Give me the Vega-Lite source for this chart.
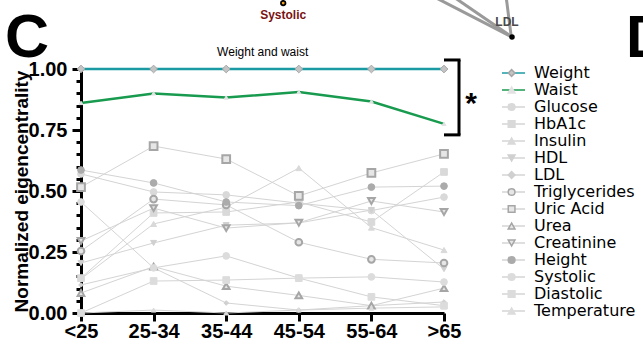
{
  "$schema": "https://vega.github.io/schema/vega-lite/v6.json",
  "autosize": {"type": "none"},
  "padding": {"left": 81, "top": 69, "right": 199, "bottom": 32},
  "width": 363,
  "height": 244,
  "background": "white",
  "config": {"view": {"stroke": null}, "font": "Liberation Sans"},
  "data": {"values": [
    {"age": "<25", "series": "Glucose", "value": 0.57}, {"age": "25-34", "series": "Glucose", "value": 0.496}, {"age": "35-44", "series": "Glucose", "value": 0.484}, {"age": "45-54", "series": "Glucose", "value": 0.45}, {"age": "55-64", "series": "Glucose", "value": 0.42}, {"age": ">65", "series": "Glucose", "value": 0.475},
    {"age": "<25", "series": "HbA1c", "value": 0.143}, {"age": "25-34", "series": "HbA1c", "value": 0.41}, {"age": "35-44", "series": "HbA1c", "value": 0.414}, {"age": "45-54", "series": "HbA1c", "value": 0.455}, {"age": "55-64", "series": "HbA1c", "value": 0.373}, {"age": ">65", "series": "HbA1c", "value": 0.578},
    {"age": "<25", "series": "Insulin", "value": 0.14}, {"age": "25-34", "series": "Insulin", "value": 0.365}, {"age": "35-44", "series": "Insulin", "value": 0.434}, {"age": "45-54", "series": "Insulin", "value": 0.594}, {"age": "55-64", "series": "Insulin", "value": 0.35}, {"age": ">65", "series": "Insulin", "value": 0.258},
    {"age": "<25", "series": "HDL", "value": 0.205}, {"age": "25-34", "series": "HDL", "value": 0.287}, {"age": "35-44", "series": "HDL", "value": 0.36}, {"age": "45-54", "series": "HDL", "value": 0.369}, {"age": "55-64", "series": "HDL", "value": 0.422}, {"age": ">65", "series": "HDL", "value": 0.18},
    {"age": "<25", "series": "LDL", "value": 0.115}, {"age": "25-34", "series": "LDL", "value": 0.185}, {"age": "35-44", "series": "LDL", "value": 0.041}, {"age": "45-54", "series": "LDL", "value": 0.012}, {"age": "55-64", "series": "LDL", "value": 0.03}, {"age": ">65", "series": "LDL", "value": 0.045},
    {"age": "<25", "series": "Triglycerides", "value": 0.254}, {"age": "25-34", "series": "Triglycerides", "value": 0.467}, {"age": "35-44", "series": "Triglycerides", "value": 0.443}, {"age": "45-54", "series": "Triglycerides", "value": 0.29}, {"age": "55-64", "series": "Triglycerides", "value": 0.22}, {"age": ">65", "series": "Triglycerides", "value": 0.205},
    {"age": "<25", "series": "Uric Acid", "value": 0.516}, {"age": "25-34", "series": "Uric Acid", "value": 0.684}, {"age": "35-44", "series": "Uric Acid", "value": 0.631}, {"age": "45-54", "series": "Uric Acid", "value": 0.48}, {"age": "55-64", "series": "Uric Acid", "value": 0.574}, {"age": ">65", "series": "Uric Acid", "value": 0.652},
    {"age": "<25", "series": "Urea", "value": 0.082}, {"age": "25-34", "series": "Urea", "value": 0.19}, {"age": "35-44", "series": "Urea", "value": 0.11}, {"age": "45-54", "series": "Urea", "value": 0.072}, {"age": "55-64", "series": "Urea", "value": 0.03}, {"age": ">65", "series": "Urea", "value": 0.102},
    {"age": "<25", "series": "Creatinine", "value": 0.295}, {"age": "25-34", "series": "Creatinine", "value": 0.43}, {"age": "35-44", "series": "Creatinine", "value": 0.348}, {"age": "45-54", "series": "Creatinine", "value": 0.37}, {"age": "55-64", "series": "Creatinine", "value": 0.459}, {"age": ">65", "series": "Creatinine", "value": 0.414},
    {"age": "<25", "series": "Height", "value": 0.586}, {"age": "25-34", "series": "Height", "value": 0.533}, {"age": "35-44", "series": "Height", "value": 0.455}, {"age": "45-54", "series": "Height", "value": 0.44}, {"age": "55-64", "series": "Height", "value": 0.516}, {"age": ">65", "series": "Height", "value": 0.52},
    {"age": "<25", "series": "Systolic", "value": 0.455}, {"age": "25-34", "series": "Systolic", "value": 0.185}, {"age": "35-44", "series": "Systolic", "value": 0.234}, {"age": "45-54", "series": "Systolic", "value": 0.143}, {"age": "55-64", "series": "Systolic", "value": 0.148}, {"age": ">65", "series": "Systolic", "value": 0.127},
    {"age": "<25", "series": "Diastolic", "value": 0.0}, {"age": "25-34", "series": "Diastolic", "value": 0.131}, {"age": "35-44", "series": "Diastolic", "value": 0.135}, {"age": "45-54", "series": "Diastolic", "value": 0.143}, {"age": "55-64", "series": "Diastolic", "value": 0.066}, {"age": ">65", "series": "Diastolic", "value": 0.03},
    {"age": "<25", "series": "Temperature", "value": 0.0}, {"age": "25-34", "series": "Temperature", "value": 0.012}, {"age": "35-44", "series": "Temperature", "value": 0.0}, {"age": "45-54", "series": "Temperature", "value": 0.012}, {"age": "55-64", "series": "Temperature", "value": 0.02}, {"age": ">65", "series": "Temperature", "value": 0.025},
    {"age": "<25", "series": "Waist", "value": 0.861}, {"age": "25-34", "series": "Waist", "value": 0.9}, {"age": "35-44", "series": "Waist", "value": 0.883}, {"age": "45-54", "series": "Waist", "value": 0.906}, {"age": "55-64", "series": "Waist", "value": 0.867}, {"age": ">65", "series": "Waist", "value": 0.775},
    {"age": "<25", "series": "Weight", "value": 1.0}, {"age": "25-34", "series": "Weight", "value": 1.0}, {"age": "35-44", "series": "Weight", "value": 1.0}, {"age": "45-54", "series": "Weight", "value": 1.0}, {"age": "55-64", "series": "Weight", "value": 1.0}, {"age": ">65", "series": "Weight", "value": 1.0}
  ]},
  "encoding": {
    "x": {"field": "age", "type": "ordinal", "sort": ["<25", "25-34", "35-44", "45-54", "55-64", ">65"], "scale": {"type": "point", "padding": 0},
      "axis": {"title": null, "labelAngle": 0, "labelFontSize": 20, "labelFontWeight": "bold", "labelFont": "Liberation Sans", "labelColor": "black", "labelPadding": 0, "domainColor": "black", "domainWidth": 3, "tickColor": "black", "tickWidth": 3, "tickSize": 8, "grid": false}},
    "y": {"field": "value", "type": "quantitative", "scale": {"domain": [0, 1], "nice": false},
      "axis": {"values": [0, 0.05, 0.1, 0.15, 0.2, 0.25, 0.3, 0.35, 0.4, 0.45, 0.5, 0.55, 0.6, 0.65, 0.7, 0.75, 0.8, 0.85, 0.9, 0.95, 1.0],
        "labelExpr": "round(datum.value*100) % 25 == 0 ? format(datum.value, '.2f') : ''",
        "labelOverlap": false, "labelFlush": false, "labelBound": false,
        "labelFontSize": 20, "labelFontWeight": "bold", "labelFont": "Liberation Sans", "labelColor": "black", "labelPadding": 5,
        "domainColor": "black", "domainWidth": 3, "tickColor": "black", "tickWidth": 3,
        "tickSize": {"condition": {"test": "round(datum.value*100) % 25 == 0", "value": 9}, "value": 5},
        "grid": false, "title": "Normalized eigencentrality", "titleFontSize": 19, "titleFontWeight": "bold", "titleFont": "Liberation Sans", "titleColor": "black", "titlePadding": -3}}
  },
  "layer": [
    {
      "mark": {"type": "line"},
      "encoding": {
        "color": {"field": "series", "type": "nominal",
          "sort": ["Weight", "Waist", "Glucose", "HbA1c", "Insulin", "HDL", "LDL", "Triglycerides", "Uric Acid", "Urea", "Creatinine", "Height", "Systolic", "Diastolic", "Temperature"],
          "scale": {"range": ["#1a9ba3", "#189a4f", "#d4d4d4", "#d4d4d4", "#d4d4d4", "#d4d4d4", "#d4d4d4", "#d4d4d4", "#d4d4d4", "#d4d4d4", "#d4d4d4", "#d4d4d4", "#d4d4d4", "#d4d4d4", "#d4d4d4"]},
          "legend": {"orient": "none", "legendX": 421, "legendY": -4.5, "title": null, "symbolType": "M-3,0L3,0", "symbolSize": 100, "symbolStrokeWidth": 1.5, "labelFontSize": 16, "labelFont": "DejaVu Sans", "labelColor": "black", "labelOffset": 16, "rowPadding": 0, "clipHeight": 17, "padding": 0, "labelLimit": 300}},
        "strokeWidth": {"condition": {"test": "datum.series == 'Weight' || datum.series == 'Waist'", "value": 2.5}, "value": 1}
      }
    },
    {
      "mark": {"type": "point", "opacity": 1},
      "encoding": {
        "shape": {"field": "series", "type": "nominal",
          "scale": {"domain": ["Weight", "Waist", "Glucose", "HbA1c", "Insulin", "HDL", "LDL", "Triglycerides", "Uric Acid", "Urea", "Creatinine", "Height", "Systolic", "Diastolic", "Temperature"],
            "range": ["diamond", "triangle-up", "circle", "square", "triangle-up", "triangle-down", "diamond", "circle", "square", "triangle-up", "triangle-down", "circle", "circle", "square", "triangle-up"]},
          "legend": {"orient": "none", "legendX": 422.6, "legendY": -4.5, "title": null, "symbolSize": 45, "symbolStrokeWidth": 1.5, "labelExpr": "''", "labelFontSize": 16, "labelFont": "DejaVu Sans", "rowPadding": 0, "clipHeight": 17, "padding": 0}},
        "fill": {"field": "series", "type": "nominal",
          "scale": {"domain": ["Weight", "Waist", "Glucose", "HbA1c", "Insulin", "HDL", "LDL", "Triglycerides", "Uric Acid", "Urea", "Creatinine", "Height", "Systolic", "Diastolic", "Temperature"],
            "range": ["#c4c4c4", "#e2e2e2", "#d9d9d9", "#d9d9d9", "#d9d9d9", "#d0d0d0", "#d0d0d0", "#e6e6e6", "#e6e6e6", "#e6e6e6", "#e6e6e6", "#ababab", "#dcdcdc", "#dcdcdc", "#dcdcdc"]},
          "legend": {"orient": "none", "legendX": 422.6, "legendY": -4.5, "title": null, "symbolSize": 45, "symbolStrokeWidth": 1.5, "labelExpr": "''", "labelFontSize": 16, "labelFont": "DejaVu Sans", "rowPadding": 0, "clipHeight": 17, "padding": 0}},
        "stroke": {"field": "series", "type": "nominal",
          "scale": {"domain": ["Weight", "Waist", "Glucose", "HbA1c", "Insulin", "HDL", "LDL", "Triglycerides", "Uric Acid", "Urea", "Creatinine", "Height", "Systolic", "Diastolic", "Temperature"],
            "range": ["#a6a6a6", "#e2e2e2", "#d9d9d9", "#d9d9d9", "#d9d9d9", "#d0d0d0", "#d0d0d0", "#a6a6a6", "#a6a6a6", "#a6a6a6", "#a6a6a6", "#ababab", "#dcdcdc", "#dcdcdc", "#dcdcdc"]},
          "legend": {"orient": "none", "legendX": 422.6, "legendY": -4.5, "title": null, "symbolSize": 45, "symbolStrokeWidth": 1.5, "labelExpr": "''", "labelFontSize": 16, "labelFont": "DejaVu Sans", "rowPadding": 0, "clipHeight": 17, "padding": 0}},
        "size": {"condition": [
          {"test": "datum.series == 'Waist'", "value": 15},
          {"test": "datum.series == 'LDL' || datum.series == 'Temperature'", "value": 22},
          {"test": "datum.series == 'Uric Acid' || datum.series == 'Weight'", "value": 60},
          {"test": "datum.series == 'Insulin' || datum.series == 'HDL'", "value": 35}
        ], "value": 45},
        "strokeWidth": {"condition": {"test": "indexof(['Triglycerides','Uric Acid','Urea','Creatinine'], datum.series) >= 0", "value": 2}, "value": 1}
      }
    },
    {
      "data": {"values": [{"age": "35-44", "y": 1.07, "label": "Weight and waist"}]},
      "mark": {"type": "text", "xOffset": 36.5, "fontSize": 12, "font": "Liberation Sans", "color": "black", "baseline": "middle", "align": "center"},
      "encoding": {"x": {"field": "age", "type": "ordinal"}, "y": {"field": "y", "type": "quantitative"}, "text": {"field": "label"}}
    },
    {
      "data": {"values": [{"age": ">65", "y": 1.037, "y2": 0.73}]},
      "mark": {"type": "rule", "xOffset": 15, "strokeWidth": 3, "color": "black"},
      "encoding": {"x": {"field": "age", "type": "ordinal"}, "y": {"field": "y", "type": "quantitative"}, "y2": {"field": "y2"}}
    },
    {
      "data": {"values": [{"age": ">65", "y": 1.037}, {"age": ">65", "y": 0.73}]},
      "mark": {"type": "rule", "x2Offset": 16.5, "strokeWidth": 3, "color": "black"},
      "encoding": {"x": {"field": "age", "type": "ordinal"}, "x2": {"field": "age"}, "y": {"field": "y", "type": "quantitative"}}
    },
    {
      "data": {"values": [{"age": ">65", "y": 0.88, "label": "*"}]},
      "mark": {"type": "text", "xOffset": 27, "fontSize": 30, "fontWeight": "bold", "font": "Liberation Sans", "color": "black", "baseline": "middle", "align": "center", "dy": 6},
      "encoding": {"x": {"field": "age", "type": "ordinal"}, "y": {"field": "y", "type": "quantitative"}, "text": {"field": "label"}}
    },
    {
      "data": {"values": [{"age": "<25", "y": 1.049, "label": "C"}]},
      "mark": {"type": "text", "xOffset": -54, "fontSize": 61, "fontWeight": "bold", "font": "Liberation Sans", "color": "black", "baseline": "alphabetic", "align": "center"},
      "encoding": {"x": {"field": "age", "type": "ordinal"}, "y": {"field": "y", "type": "quantitative"}, "text": {"field": "label"}}
    },
    {
      "data": {"values": [{"age": ">65", "y": 1.049, "label": "D"}]},
      "mark": {"type": "text", "xOffset": 182, "fontSize": 59, "fontWeight": "bold", "font": "Liberation Sans", "color": "black", "baseline": "alphabetic", "align": "left"},
      "encoding": {"x": {"field": "age", "type": "ordinal"}, "y": {"field": "y", "type": "quantitative"}, "text": {"field": "label"}}
    },
    {
      "data": {"values": [{"age": ">65", "y": 1.30, "y2": 1.131}]},
      "mark": {"type": "rule", "xOffset": -12, "x2Offset": 68, "strokeWidth": 3, "color": "#9a9a9a"},
      "encoding": {"x": {"field": "age", "type": "ordinal"}, "x2": {"field": "age"}, "y": {"field": "y", "type": "quantitative"}, "y2": {"field": "y2"}}
    },
    {
      "data": {"values": [{"age": ">65", "y": 1.30, "y2": 1.131}]},
      "mark": {"type": "rule", "xOffset": 8, "x2Offset": 68, "strokeWidth": 3, "color": "#9a9a9a"},
      "encoding": {"x": {"field": "age", "type": "ordinal"}, "x2": {"field": "age"}, "y": {"field": "y", "type": "quantitative"}, "y2": {"field": "y2"}}
    },
    {
      "data": {"values": [{"age": ">65", "y": 1.30, "y2": 1.14}]},
      "mark": {"type": "rule", "xOffset": 62, "x2Offset": 67, "strokeWidth": 3, "color": "#9a9a9a"},
      "encoding": {"x": {"field": "age", "type": "ordinal"}, "x2": {"field": "age"}, "y": {"field": "y", "type": "quantitative"}, "y2": {"field": "y2"}}
    },
    {
      "data": {"values": [{"age": ">65", "y": 1.131}]},
      "mark": {"type": "point", "xOffset": 68, "filled": true, "size": 30, "color": "black", "opacity": 1},
      "encoding": {"x": {"field": "age", "type": "ordinal"}, "y": {"field": "y", "type": "quantitative"}}
    },
    {
      "data": {"values": [{"age": ">65", "y": 1.193, "label": "LDL"}]},
      "mark": {"type": "text", "xOffset": 63, "fontSize": 12, "fontWeight": "bold", "font": "Liberation Sans", "color": "#4a4a4a", "baseline": "middle", "align": "center"},
      "encoding": {"x": {"field": "age", "type": "ordinal"}, "y": {"field": "y", "type": "quantitative"}, "text": {"field": "label"}}
    },
    {
      "data": {"values": [{"age": "35-44", "y": 1.27}]},
      "mark": {"type": "point", "xOffset": 57, "filled": true, "size": 40, "color": "black", "opacity": 1},
      "encoding": {"x": {"field": "age", "type": "ordinal"}, "y": {"field": "y", "type": "quantitative"}}
    },
    {
      "data": {"values": [{"age": "35-44", "y": 1.27}]},
      "mark": {"type": "point", "xOffset": 57, "filled": true, "size": 8, "color": "#f0a020", "opacity": 1},
      "encoding": {"x": {"field": "age", "type": "ordinal"}, "y": {"field": "y", "type": "quantitative"}}
    },
    {
      "data": {"values": [{"age": "35-44", "y": 1.221, "label": "Systolic"}]},
      "mark": {"type": "text", "xOffset": 57, "fontSize": 12, "fontWeight": "bold", "font": "Liberation Sans", "color": "#7a1212", "baseline": "middle", "align": "center"},
      "encoding": {"x": {"field": "age", "type": "ordinal"}, "y": {"field": "y", "type": "quantitative"}, "text": {"field": "label"}}
    }
  ]
}
